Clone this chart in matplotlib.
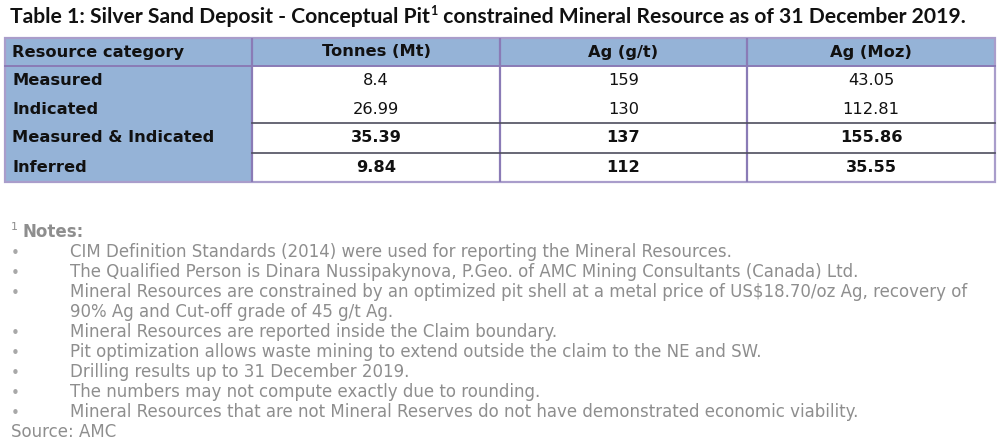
import matplotlib
matplotlib.use("Agg")
import matplotlib.pyplot as plt
from matplotlib.patches import Rectangle

# table data
columns = ["Resource category", "Tonnes (Mt)", "Ag (g/t)", "Ag (Moz)"]
categories = ["Measured", "Indicated", "Measured & Indicated", "Inferred"]
tonnes = ["8.4", "26.99", "35.39", "9.84"]
grade = ["159", "130", "137", "112"]
ounces = ["43.05", "112.81", "155.86", "35.55"]
bold_rows = [False, False, True, True]

title_a = "Table 1: Silver Sand Deposit - Conceptual Pit"
title_b = " constrained Mineral Resource as of 31 December 2019."

notes = [
    ("CIM Definition Standards (2014) were used for reporting the Mineral Resources.", True),
    ("The Qualified Person is Dinara Nussipakynova, P.Geo. of AMC Mining Consultants (Canada) Ltd.", True),
    ("Mineral Resources are constrained by an optimized pit shell at a metal price of US$18.70/oz Ag, recovery of", True),
    ("90% Ag and Cut-off grade of 45 g/t Ag.", False),
    ("Mineral Resources are reported inside the Claim boundary.", True),
    ("Pit optimization allows waste mining to extend outside the claim to the NE and SW.", True),
    ("Drilling results up to 31 December 2019.", True),
    ("The numbers may not compute exactly due to rounding.", True),
    ("Mineral Resources that are not Mineral Reserves do not have demonstrated economic viability.", True),
]
source = "Source: AMC"

BLUE = "#95B3D7"
VLINE = "#8A7BB6"
HLINE = "#4E4E5E"
OUTER = "#A99DCB"
GREY = "#8E8E8E"

fig = plt.figure(figsize=(10, 4.45), dpi=100)
ax = fig.add_axes([0, 0, 1, 1])
ax.set_xlim(0, 1000)
ax.set_ylim(445, 0)
ax.axis("off")

# layout in pixels
col_x = [5, 252, 500, 747, 995]
row_y = [38, 66, 95, 123, 153, 182]

# blue header row and first column
ax.add_patch(Rectangle((col_x[0], row_y[0]), col_x[-1] - col_x[0], row_y[1] - row_y[0],
                       facecolor=BLUE, edgecolor="none"))
ax.add_patch(Rectangle((col_x[0], row_y[1]), col_x[1] - col_x[0], row_y[-1] - row_y[1],
                       facecolor=BLUE, edgecolor="none"))

# grid lines
for x in col_x[1:-1]:
    ax.plot([x, x], [row_y[0], row_y[-1]], color=VLINE, lw=1.6, solid_capstyle="butt")
ax.plot([col_x[0], col_x[-1]], [row_y[1], row_y[1]], color=VLINE, lw=1.4)
for y in row_y[3:5]:
    ax.plot([col_x[1], col_x[-1]], [y, y], color=HLINE, lw=1.2)
ax.add_patch(Rectangle((col_x[0], row_y[0]), col_x[-1] - col_x[0], row_y[-1] - row_y[0],
                       facecolor="none", edgecolor=OUTER, lw=1.6))

TS = 11.7
# header
for i, name in enumerate(columns):
    yc = (row_y[0] + row_y[1]) / 2
    if i == 0:
        ax.text(col_x[0] + 7, yc, name, fontsize=TS, fontweight="bold", va="center", ha="left", color="#111111")
    else:
        ax.text((col_x[i] + col_x[i + 1]) / 2, yc, name, fontsize=TS, fontweight="bold",
                va="center", ha="center", color="#111111")

# body
for r, cat in enumerate(categories):
    yc = (row_y[r + 1] + row_y[r + 2]) / 2
    ax.text(col_x[0] + 7, yc, cat, fontsize=TS, fontweight="bold", va="center", ha="left", color="#111111")
    w = "bold" if bold_rows[r] else "normal"
    for c, vals in enumerate([tonnes, grade, ounces]):
        ax.text((col_x[c + 1] + col_x[c + 2]) / 2, yc, vals[r], fontsize=TS, fontweight=w,
                va="center", ha="center", color="#111111")

# title with superscript
fig.canvas.draw()
rend = fig.canvas.get_renderer()
t1 = ax.text(10, 17, title_a, fontsize=15.2, fontweight="bold", family="Lato", va="center", ha="left", color="#111111")
bb = t1.get_window_extent(rend)
x1 = ax.transData.inverted().transform((bb.x1, 0))[0]
t2 = ax.text(x1 + 0.5, 11, "1", fontsize=9, fontweight="bold", family="Lato", va="center", ha="left", color="#111111")
bb2 = t2.get_window_extent(rend)
x2 = ax.transData.inverted().transform((bb2.x1, 0))[0]
ax.text(x2, 17, title_b, fontsize=15.2, fontweight="bold", family="Lato", va="center", ha="left", color="#111111")

# notes
NS = 12.0
ax.text(11, 227, "1", fontsize=8, color=GREY, va="center", ha="left")
ax.text(22, 232, "Notes:", fontsize=NS, fontweight="bold", color=GREY, va="center", ha="left")
y = 252
for txt, bullet in notes:
    if bullet:
        ax.text(15, y + 1, "\u2022", fontsize=11, color="#A8A8A8", va="center", ha="center")
    ax.text(70, y, txt, fontsize=NS, color=GREY, va="center", ha="left")
    y += 20
ax.text(11, y, source, fontsize=NS, color=GREY, va="center", ha="left")

fig.savefig("out.png", dpi=100, facecolor="white")
